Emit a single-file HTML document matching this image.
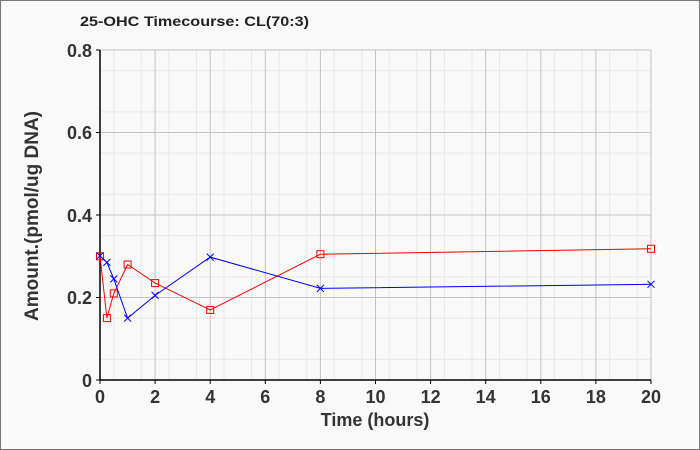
<!DOCTYPE html>
<html><head><meta charset="utf-8"><style>
html,body{margin:0;padding:0;background:#fff}
svg{display:block;font-family:"Liberation Sans",Arial,sans-serif}
</style></head><body>
<svg width="700" height="450" viewBox="0 0 700 450">
<rect x="0.5" y="0.5" width="699" height="449" fill="#f9f9f9" stroke="#777"/>
<text x="80" y="26" font-size="14" font-weight="bold" fill="#222" textLength="229" lengthAdjust="spacingAndGlyphs">25-OHC Timecourse: CL(70:3)</text>
<g stroke="#e8e8e8" stroke-width="1">
<path d="M113.8 50V380M141.3 50V380M168.9 50V380M196.5 50V380M224 50V380M251.6 50V380M279.1 50V380M306.7 50V380M334.2 50V380M361.8 50V380M389.3 50V380M416.9 50V380M444.4 50V380M472 50V380M499.5 50V380M527.1 50V380M554.6 50V380M582.2 50V380M609.7 50V380M637.3 50V380"/>
<path d="M100 70.6H651M100 111.9H651M100 153.1H651M100 194.4H651M100 235.6H651M100 276.9H651M100 318.1H651M100 359.4H651"/>
</g>
<g stroke="#c4c4c4" stroke-width="1">
<path d="M155.1 50V380M210.2 50V380M265.3 50V380M320.4 50V380M375.5 50V380M430.6 50V380M485.7 50V380M540.8 50V380M595.9 50V380M651 50V380"/>
<path d="M100 50H651M100 132.5H651M100 215H651M100 297.5H651"/>
</g>
<path d="M100 50V380H651" stroke="#000" fill="none" stroke-width="1.5"/>
<path d="M96 50H100M96 132.5H100M96 215H100M96 297.5H100M96 380H100M100 380V384M155.1 380V384M210.2 380V384M265.3 380V384M320.4 380V384M375.5 380V384M430.6 380V384M485.7 380V384M540.8 380V384M595.9 380V384M651 380V384" stroke="#000"/>
<g font-size="18" font-weight="bold" fill="#333" text-anchor="end">
<text x="92" y="57">0.8</text><text x="92" y="139">0.6</text><text x="92" y="222">0.4</text><text x="92" y="304">0.2</text><text x="92" y="387">0</text>
</g>
<g font-size="18" font-weight="bold" fill="#333" text-anchor="middle">
<text x="100" y="403">0</text><text x="155.1" y="403">2</text><text x="210.2" y="403">4</text><text x="265.3" y="403">6</text><text x="320.4" y="403">8</text><text x="375.5" y="403">10</text><text x="430.6" y="403">12</text><text x="485.7" y="403">14</text><text x="540.8" y="403">16</text><text x="595.9" y="403">18</text><text x="651" y="403">20</text>
<text x="375" y="426">Time (hours)</text>
<text transform="translate(38 216) rotate(-90)" font-size="19">Amount.(pmol/ug DNA)</text>
</g>
<polyline fill="none" stroke="#ff0000" stroke-width="1" points="100,256.3 106.9,318.1 113.8,293.4 127.6,264.5 155.1,283.1 210.2,309.9 320.4,254.2 651,248.8"/>
<g fill="none" stroke="#ff0000" stroke-width="1">
<rect x="96.5" y="252.8" width="7" height="7"/><rect x="103.4" y="314.6" width="7" height="7"/><rect x="110.3" y="289.9" width="7" height="7"/><rect x="124.1" y="261" width="7" height="7"/><rect x="151.6" y="279.6" width="7" height="7"/><rect x="206.7" y="306.4" width="7" height="7"/><rect x="316.9" y="250.7" width="7" height="7"/><rect x="647.5" y="245.3" width="7" height="7"/>
</g>
<polyline fill="none" stroke="#0000ff" stroke-width="1" points="100,256.3 106.9,262.4 113.8,278.9 127.6,318.1 155.1,295.4 210.2,257.1 320.4,288.4 651,284.3"/>
<g stroke="#0000ff" stroke-width="1">
<path d="M103.5 259.3l-3.5-3.5m0 0l-3.5-3.5m7 0l-7 7"/>
<path d="M103.4 258.9l7 7m0-7l-7 7M110.3 275.4l7 7m0-7l-7 7M124.1 314.6l7 7m0-7l-7 7M151.6 291.9l7 7m0-7l-7 7M206.7 253.6l7 7m0-7l-7 7M316.9 284.9l7 7m0-7l-7 7M647.5 280.8l7 7m0-7l-7 7"/>
</g>
</svg>
</body></html>
